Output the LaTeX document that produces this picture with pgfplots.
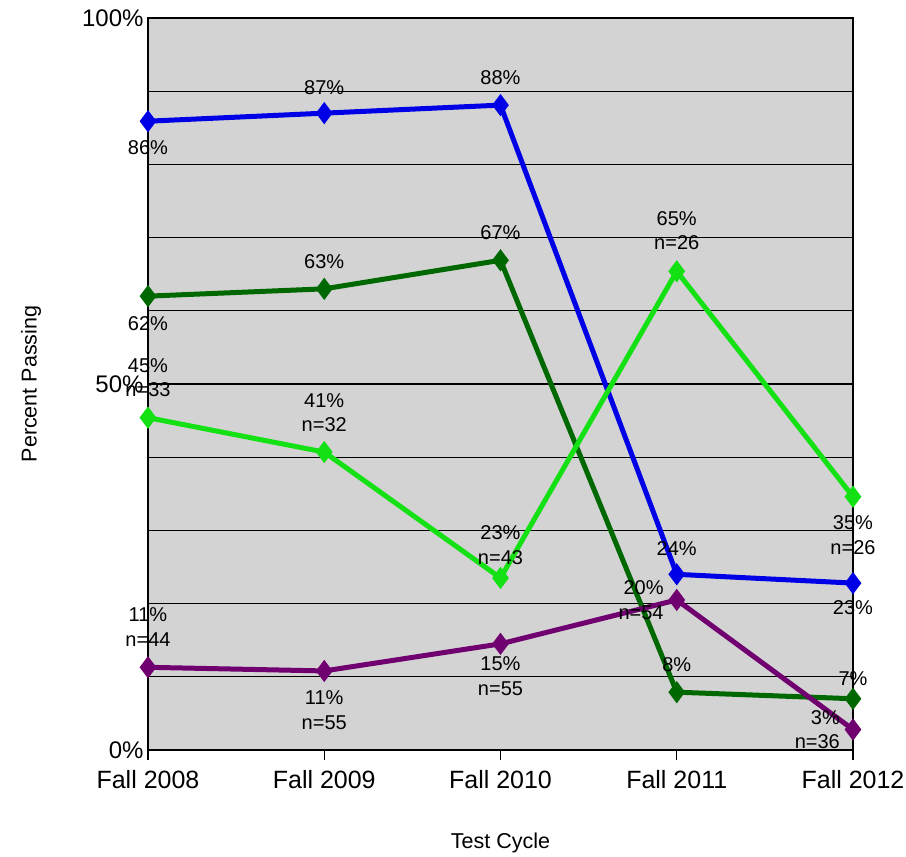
\documentclass[border=0pt]{standalone}
\usepackage{pgfplots}
\pgfplotsset{compat=1.18}
\usepackage{fontspec}
\setmainfont{Liberation Sans}
\definecolor{cblue}{RGB}{0,0,230}
\definecolor{cdgreen}{RGB}{0,104,0}
\definecolor{clgreen}{RGB}{20,225,20}
\definecolor{cpurple}{RGB}{112,0,112}
\definecolor{cbg}{RGB}{211,211,211}
\tikzset{lbl/.style={font=\fontsize{20}{24.5}\selectfont, align=center, inner sep=0pt}}
\begin{document}
\begin{tikzpicture}
\useasboundingbox (-148pt,-107pt) rectangle (758pt,750pt);
\begin{axis}[
  scale only axis, width=705pt, height=732pt,
  xmin=0, xmax=4, ymin=0, ymax=100,
  clip=false,
  axis background/.style={fill=cbg},
  axis line style={line width=1.5pt, black},
  xtick={0,1,2,3,4},
  xticklabels={Fall 2008,Fall 2009,Fall 2010,Fall 2011,Fall 2012},
  xtick align=outside, xtick pos=bottom,
  major tick length=10pt,
  x tick style={line width=1.2pt, black},
  ytick={0,10,...,100},
  yticklabels={0\%,,,,,50\%,,,,,100\%},
  y tick style={draw=none},
  ymajorgrids, grid style={black, line width=1.2pt},
  xticklabel style={font=\fontsize{25}{28}\selectfont, yshift=-7pt},
  yticklabel style={font=\fontsize{24}{28}\selectfont, xshift=-1pt},
  xlabel={Test Cycle}, ylabel={Percent Passing},
  label style={font=\fontsize{21.5}{24}\selectfont},
  xlabel style={at={(axis description cs:0.5,-0.127)}, anchor=center},
  ylabel style={at={(axis description cs:-0.166,0.5)}, anchor=center},
  every axis plot/.append style={line width=5pt, mark=diamond*, mark size=7pt, mark options={solid}},
]
\addplot[cblue] coordinates {(0,85.9) (1,87.0) (2,88.1) (3,24.0) (4,22.8)};
\addplot[cdgreen] coordinates {(0,62.0) (1,63.0) (2,66.9) (3,7.9) (4,7.0)};
\addplot[clgreen] coordinates {(0,45.4) (1,40.7) (2,23.5) (3,65.4) (4,34.6)};
\addplot[cpurple] coordinates {(0,11.3) (1,10.8) (2,14.5) (3,20.5) (4,2.8)};
% blue labels
\node[lbl, yshift=-26pt] at (axis cs:0,85.9) {86\%};
\node[lbl, yshift=26pt] at (axis cs:1,87.0) {87\%};
\node[lbl, yshift=27pt] at (axis cs:2,88.1) {88\%};
\node[lbl, yshift=26pt] at (axis cs:3,24.0) {24\%};
\node[lbl, yshift=-25pt] at (axis cs:4,22.8) {23\%};
% dark green labels
\node[lbl, yshift=-27pt] at (axis cs:0,62.0) {62\%};
\node[lbl, yshift=27pt] at (axis cs:1,63.0) {63\%};
\node[lbl, yshift=28pt] at (axis cs:2,66.9) {67\%};
\node[lbl, yshift=28pt] at (axis cs:3,7.9) {8\%};
\node[lbl, yshift=20pt] at (axis cs:4,7.0) {7\%};
% light green labels
\node[lbl, yshift=40pt] at (axis cs:0,45.4) {45\%\\n=33};
\node[lbl, yshift=39.5pt] at (axis cs:1,40.7) {41\%\\n=32};
\node[lbl, yshift=33pt] at (axis cs:2,23.5) {23\%\\n=43};
\node[lbl, yshift=40.5pt] at (axis cs:3,65.4) {65\%\\n=26};
\node[lbl, yshift=-38.5pt] at (axis cs:4,34.6) {35\%\\n=26};
% purple labels
\node[lbl, yshift=40pt] at (axis cs:0,11.3) {11\%\\n=44};
\node[lbl, yshift=-39pt] at (axis cs:1,10.8) {11\%\\n=55};
\node[lbl, yshift=-32.5pt] at (axis cs:2,14.5) {15\%\\n=55};
\node[lbl, align=right, anchor=east, xshift=-13pt] at (axis cs:3,20.5) {20\%\\n=54};
\node[lbl, align=right, anchor=east, xshift=-13pt] at (axis cs:4,2.8) {3\%\\n=36};
\end{axis}
\end{tikzpicture}
\end{document}
